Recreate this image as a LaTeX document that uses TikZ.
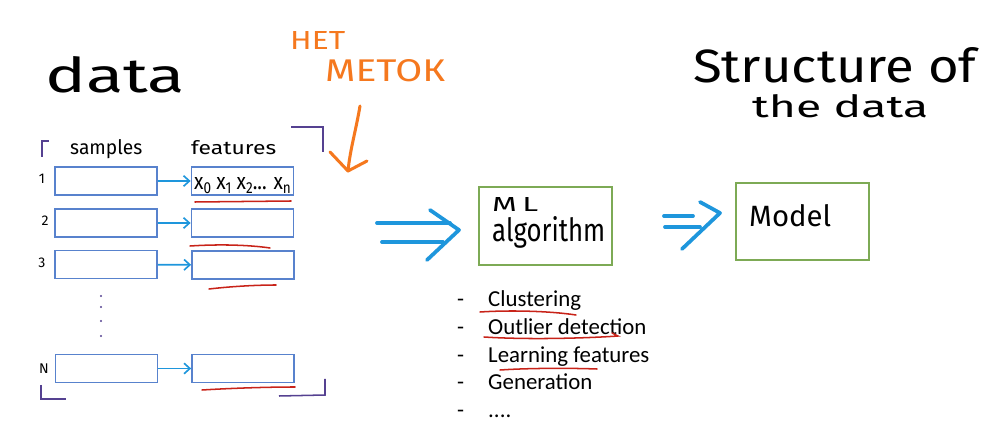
\documentclass[tikz,border=0pt]{standalone}
\usepackage{fontspec}
\setmainfont{Carlito}
\newfontfamily\hand{Fira Sans}
\usepackage{graphicx}
\usetikzlibrary{arrows.meta}
\definecolor{boxblue}{RGB}{88,130,205}
\definecolor{arrblue}{RGB}{30,150,220}
\definecolor{boxgreen}{RGB}{125,170,85}
\definecolor{redline}{RGB}{200,35,25}
\definecolor{purp}{RGB}{85,65,145}
\definecolor{orng}{RGB}{245,120,30}
\begin{document}
\begin{tikzpicture}[x=0.03cm,y=-0.03cm,
  rowbox/.style={draw=boxblue,line width=1.2pt,minimum width=3.07cm,minimum height=0.84cm,inner sep=0},
  mlbox/.style={draw=boxgreen,line width=1.1pt,inner sep=0},
  rowarrow/.style={draw=arrblue,line width=1.4pt,-{Straight Barb[length=5pt,width=9pt,line width=1.4pt]}},
  handtxt/.style={inner sep=0,anchor=base west},
  bracket/.style={draw=purp,line width=1.3pt},
  uline/.style={draw=redline,line width=1.3pt,line cap=round},
  bigarrow/.style={draw=arrblue,line width=3.2pt,line cap=round,line join=round},
  listtxt/.style={inner sep=0,anchor=base west,font=\fontsize{19.5}{23}\selectfont},
  rownum/.style={inner sep=0,anchor=base,font=\hand\fontsize{12}{14}\selectfont}
]
\useasboundingbox (0,0) rectangle (1002,432);

% titles
\node[handtxt] (data) at (45,93) {\resizebox{4.2cm}{1.08cm}{\hand data}};
\node[handtxt,text=orng] (net) at (290,50) {\resizebox{1.65cm}{0.54cm}{\hand НЕТ}};
\node[handtxt,text=orng] (metok) at (325,82) {\resizebox{3.6cm}{0.66cm}{\hand МЕТОК}};
\node[handtxt] (struct) at (693,83) {\resizebox{8.5cm}{1.05cm}{\hand Structure of}};
\node[handtxt] (thedata) at (752,118) {\resizebox{5.28cm}{0.69cm}{\hand the data}};

% orange arrow
\coordinate (oa1) at (360,106);
\coordinate (oa2) at (348,171);
\coordinate (oal) at (330,152);
\coordinate (oar) at (367,161);
\draw[orng,line width=2.6pt,line cap=round,line join=round] (oa1) .. controls (356,130) and (350,150) .. (oa2);
\draw[orng,line width=2.6pt,line cap=round,line join=round] (oal) -- (oa2) -- (oar);

% headers
\node[handtxt] (samples) at (70,155) {\resizebox{2.16cm}{0.45cm}{\hand samples}};
\node[handtxt] (features) at (191,155) {\resizebox{2.55cm}{0.42cm}{\hand features}};

% brackets
\coordinate (b1a) at (42,157); \coordinate (b1b) at (42,141); \coordinate (b1c) at (49,141);
\draw[bracket] (b1a) -- (b1b) -- (b1c);
\coordinate (b2a) at (291,127); \coordinate (b2b) at (323,127); \coordinate (b2c) at (323,152);
\draw[bracket] (b2a) -- (b2b) -- (b2c);
\coordinate (b3a) at (41,385); \coordinate (b3b) at (41,399); \coordinate (b3c) at (66,399);
\draw[bracket] (b3a) -- (b3b) -- (b3c);
\coordinate (b4a) at (279,396); \coordinate (b4b) at (325,395); \coordinate (b4c) at (325,379);
\draw[bracket] (b4a) -- (b4b) -- (b4c);

% rows
\node[rowbox] (s1) at (106,181) {};
\node[rowbox] (f1) at (242.5,181) {};
\node[rowbox] (s2) at (106,223) {};
\node[rowbox] (f2) at (242.5,223) {};
\node[rowbox] (s3) at (106,264.5) {};
\node[rowbox] (f3) at (243,265) {};
\node[rowbox] (sN) at (106.5,368.5) {};
\node[rowbox] (fN) at (243,368.5) {};
\draw[rowarrow] (s1) -- (f1);
\draw[rowarrow] (s2) -- (f2);
\draw[rowarrow] (s3) -- (f3);
\draw[rowarrow] (sN) -- (fN);

\node[handtxt] (xs) at (194,190) {\resizebox{2.9cm}{0.36cm}{\hand x\raisebox{-0.3ex}{\scriptsize 0} x\raisebox{-0.3ex}{\scriptsize 1} x\raisebox{-0.3ex}{\scriptsize 2}... x\raisebox{-0.3ex}{\scriptsize n}}};

\node[rownum] (n1) at (42,184) {1};
\node[rownum] (n2) at (45,226) {2};
\node[rownum] (n3) at (42,268) {3};
\node[rownum] (nN) at (44,374) {N};

% dots
\fill[purp] (101,296) circle (1.1);
\fill[purp] (101,307) circle (1.1);
\fill[purp] (101,321) circle (1.1);
\fill[purp] (101,336) circle (1.1);

% red underlines
\draw[uline] (195,202) -- (291,201);
\draw[uline] (190,246) .. controls (220,244) and (250,245) .. (270,248);
\draw[uline] (209,289) .. controls (235,286) and (260,285) .. (276,285);
\draw[uline] (202,390) .. controls (235,388) and (270,387) .. (295,387);

% big arrow 1
\coordinate (a1l1) at (377,223); \coordinate (a1r1) at (450,223);
\coordinate (a1l2) at (382,242); \coordinate (a1r2) at (443,242);
\coordinate (a1t) at (430,210); \coordinate (a1tip) at (459,230); \coordinate (a1b) at (427,260);
\draw[bigarrow] (a1l1) -- (a1r1);
\draw[bigarrow] (a1l2) -- (a1r2);
\draw[bigarrow] (a1t) -- (a1tip) -- (a1b);

% ML box
\node[mlbox,minimum width=3.99cm,minimum height=2.34cm] (ml) at (545.5,226) {};
\node[handtxt] (mltxt) at (492,212) {\resizebox{1.38cm}{0.42cm}{\hand M\,L}};
\node[handtxt] (algo) at (492,242) {\resizebox{3.39cm}{0.75cm}{\hand algorithm}};

% big arrow 2
\coordinate (a2l1) at (664,216); \coordinate (a2r1) at (693,216);
\coordinate (a2l2) at (665,227); \coordinate (a2r2) at (700,227);
\coordinate (a2t) at (700,202); \coordinate (a2tip) at (720,213); \coordinate (a2b) at (682,249);
\draw[bigarrow] (a2l1) -- (a2r1);
\draw[bigarrow] (a2l2) -- (a2r2);
\draw[bigarrow] (a2t) -- (a2tip) -- (a2b);

% Model box
\node[mlbox,minimum width=3.99cm,minimum height=2.31cm] (model) at (802.5,221.5) {};
\node[handtxt] (modeltxt) at (749,227) {\resizebox{2.46cm}{0.66cm}{\hand Model}};

% list
\node[listtxt] (d1) at (457,307) {-};
\node[listtxt] (l1) at (488,307) {Clustering};
\node[listtxt] (d2) at (457,335) {-};
\node[listtxt] (l2) at (488,335) {Outlier detection};
\node[listtxt] (d3) at (457,363) {-};
\node[listtxt] (l3) at (488,363) {Learning features};
\node[listtxt] (d4) at (457,390) {-};
\node[listtxt] (l4) at (488,390) {Generation};
\node[listtxt] (d5) at (457,418) {-};
\node[listtxt] (l5) at (488,418) {....};
\draw[uline] (480,312) .. controls (510,310) and (550,311) .. (576,315);
\draw[uline] (484,337) .. controls (530,340) and (590,338) .. (618,336) -- (612,333);
\draw[uline] (500,370) .. controls (530,368) and (570,368) .. (597,369);
\end{tikzpicture}
\end{document}
